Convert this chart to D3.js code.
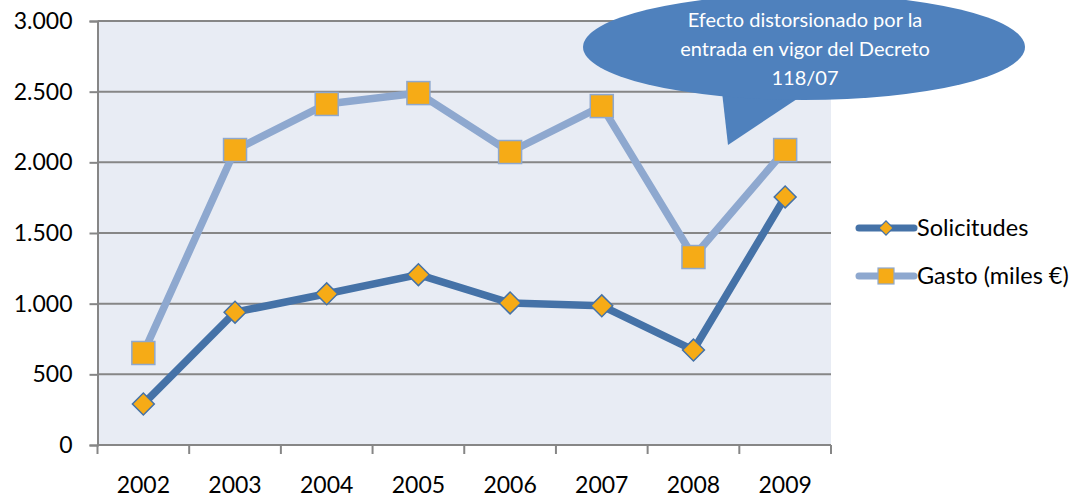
<!DOCTYPE html>
<html>
<head>
<meta charset="utf-8">
<script src="https://cdn.jsdelivr.net/npm/d3@7"></script>
<style>
  body { margin: 0; background: #fff; }
  svg { display: block; font-family: Lato, "Open Sans", sans-serif; }
</style>
</head>
<body>
<section></section>
<script>
// data
let years = ['2002', '2003', '2004', '2005', '2006', '2007', '2008', '2009'];
let solicitudes = [290, 940, 1070, 1205, 1005, 985, 672, 1755];
let gasto = [651, 2087, 2413, 2490, 2073, 2398, 1330, 2087];
let yTicks = [0, 500, 1000, 1500, 2000, 2500, 3000];
let seriesNames = ['Solicitudes', 'Gasto (miles €)'];
let noteLines = ['Efecto distorsionado por la', 'entrada en vigor del Decreto', '118/07'];

let width = 1077, height = 498;
let plotLeft = 97.5, plotRight = 831, plotTop = 21, plotBottom = 445;

let svg = d3.select('section').append('svg')
  .attr('width', width)
  .attr('height', height);

let xScale = d3.scaleBand().domain(years).range([plotLeft, plotRight]);
let yScale = d3.scaleLinear().domain([0, 3000]).range([plotBottom, plotTop]);
let fmt = d => d3.format(',')(d).replace(/,/g, '.');

// plot background
svg.append('rect')
  .attr('x', plotLeft).attr('y', plotTop)
  .attr('width', plotRight - plotLeft).attr('height', plotBottom - plotTop)
  .attr('fill', '#E8ECF4');

// gridlines
svg.append('g').selectAll('line')
  .data(yTicks.filter(t => t > 0))
  .enter().append('line')
  .attr('x1', plotLeft).attr('x2', plotRight)
  .attr('y1', d => yScale(d)).attr('y2', d => yScale(d))
  .attr('stroke', '#868686').attr('stroke-width', 2);

// y axis
let yAxis = d3.axisLeft(yScale).tickValues(yTicks).tickSize(8).tickPadding(17).tickFormat(fmt);
let gy = svg.append('g')
  .attr('transform', 'translate(' + plotLeft + ',0)')
  .call(yAxis);
gy.select('.domain').attr('stroke', '#868686').attr('stroke-width', 2);
gy.selectAll('.tick line').attr('stroke', '#868686').attr('stroke-width', 2);
gy.selectAll('.tick text')
  .attr('fill', '#000').style('font-size', '23px').style('font-family', 'Lato, sans-serif');

// x axis
let gx = svg.append('g');
gx.append('line')
  .attr('x1', plotLeft).attr('x2', plotRight)
  .attr('y1', plotBottom).attr('y2', plotBottom)
  .attr('stroke', '#868686').attr('stroke-width', 2);
let bounds = years.map(y => xScale(y)).concat([xScale.range()[1]]);
gx.selectAll('line.tk')
  .data(bounds)
  .enter().append('line')
  .attr('class', 'tk')
  .attr('x1', d => d).attr('x2', d => d)
  .attr('y1', plotBottom).attr('y2', plotBottom + 9)
  .attr('stroke', '#868686').attr('stroke-width', 2);
gx.selectAll('text')
  .data(years)
  .enter().append('text')
  .attr('x', d => xScale(d) + xScale.bandwidth() / 2)
  .attr('y', 493)
  .attr('text-anchor', 'middle')
  .style('font-size', '23px')
  .text(d => d);

let cx = d => xScale(d) + xScale.bandwidth() / 2;
let line = d3.line().x(d => cx(d[0])).y(d => yScale(d[1]));

// Gasto line
let gastoPts = years.map((y, i) => [y, gasto[i]]);
svg.append('path')
  .attr('d', line(gastoPts))
  .attr('fill', 'none').attr('stroke', '#8EA8CF').attr('stroke-width', 7.5)
  .attr('stroke-linejoin', 'round');
svg.append('g').selectAll('rect')
  .data(gastoPts)
  .enter().append('rect')
  .attr('x', d => cx(d[0]) - 11.5).attr('y', d => yScale(d[1]) - 11.5)
  .attr('width', 23).attr('height', 23)
  .attr('fill', '#F6AB16').attr('stroke', '#8EA8CF').attr('stroke-width', 1.5);

// Solicitudes line
let solPts = years.map((y, i) => [y, solicitudes[i]]);
svg.append('path')
  .attr('d', line(solPts))
  .attr('fill', 'none').attr('stroke', '#4572A7').attr('stroke-width', 7.5)
  .attr('stroke-linejoin', 'round');
let diamond = d3.symbol().type(d3.symbolSquare).size(240);
svg.append('g').selectAll('path')
  .data(solPts)
  .enter().append('path')
  .attr('d', diamond)
  .attr('transform', d => 'translate(' + cx(d[0]) + ',' + yScale(d[1]) + ') rotate(45)')
  .attr('fill', '#F6AB16').attr('stroke', '#4572A7').attr('stroke-width', 1.5);

// legend
let legend = svg.append('g');
let legY = [228, 276];
let legColors = ['#4572A7', '#8EA8CF'];
seriesNames.forEach((name, i) => {
  let g = legend.append('g').attr('transform', 'translate(0,' + legY[i] + ')');
  g.append('line')
    .attr('x1', 859).attr('x2', 914).attr('y1', 0).attr('y2', 0)
    .attr('stroke', legColors[i]).attr('stroke-width', 7).attr('stroke-linecap', 'round');
  if (i == 0) {
    g.append('path')
      .attr('d', d3.symbol().type(d3.symbolSquare).size(100))
      .attr('transform', 'translate(886,0) rotate(45)')
      .attr('fill', '#F6AB16').attr('stroke', '#4572A7').attr('stroke-width', 1.2);
  } else {
    g.append('rect')
      .attr('x', 878).attr('y', -8).attr('width', 16).attr('height', 16)
      .attr('fill', '#F6AB16').attr('stroke', '#8EA8CF').attr('stroke-width', 1.2);
  }
  g.append('text')
    .attr('x', 917).attr('y', 8)
    .style('font-size', '23.5px')
    .text(name);
});

// callout bubble
let note = svg.append('g');
note.append('path')
  .attr('d', 'M722,92 L728,145 L803,95 Z')
  .attr('fill', '#4F81BD');
note.append('ellipse')
  .attr('cx', 804).attr('cy', 47).attr('rx', 221).attr('ry', 53)
  .attr('fill', '#4F81BD');
note.selectAll('text')
  .data(noteLines)
  .enter().append('text')
  .attr('x', 805)
  .attr('y', (d, i) => 27 + i * 29)
  .attr('text-anchor', 'middle')
  .attr('fill', '#fff')
  .style('font-size', '20px')
  .text(d => d);
</script>
</body>
</html>
